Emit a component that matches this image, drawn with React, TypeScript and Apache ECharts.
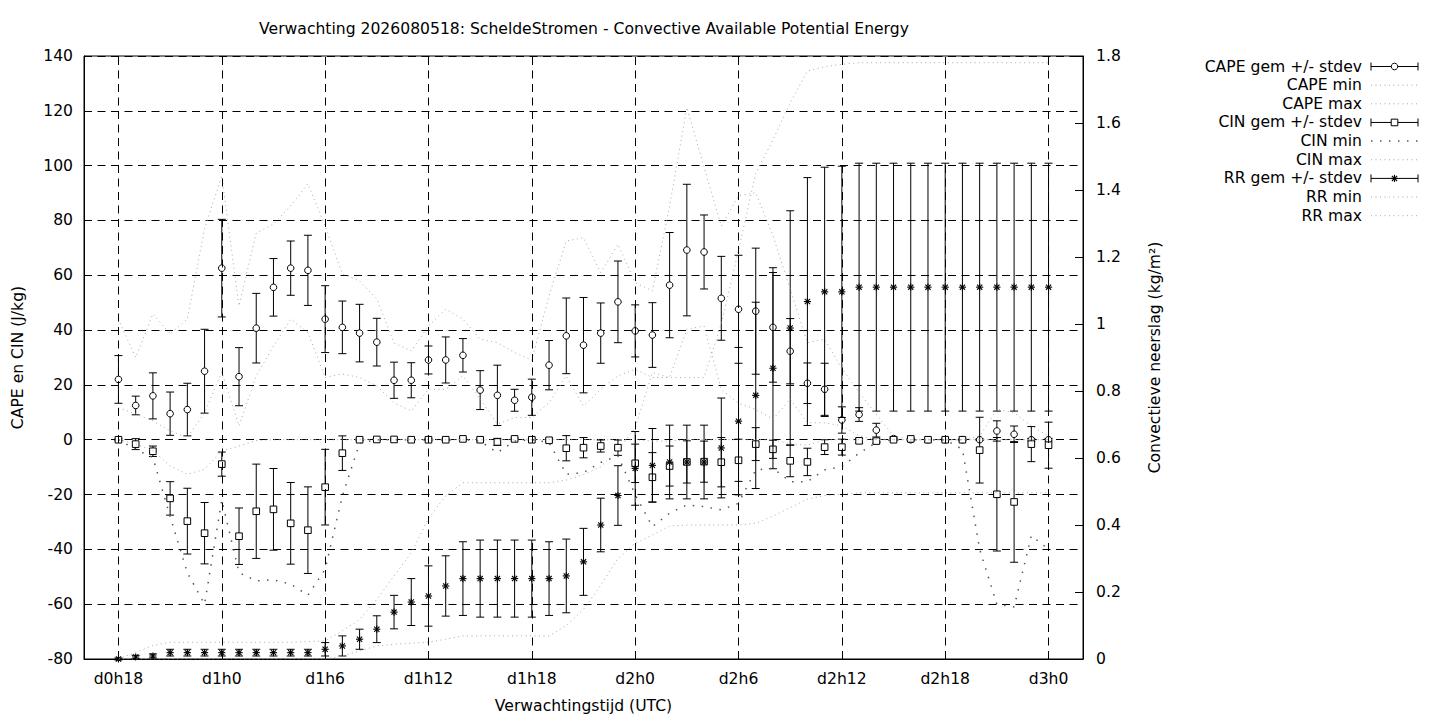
import React, { useEffect, useRef } from "react";
import * as echarts from "echarts";

const FONT = "DejaVu Sans";
const FS = 15.6;

// hours after d0h18
const hours = [
  0, 1, 2, 3, 4, 5, 6, 7, 8, 9, 10, 11, 12, 13, 14, 15, 16, 17, 18, 19, 20, 21, 22, 23, 24, 25, 26,
  27, 28, 29, 30, 31, 32, 33, 34, 35, 36, 37, 38, 39, 40, 41, 42, 43, 44, 45, 46, 47, 48, 49, 50, 51,
  52, 53, 54,
];
const xTickValues = [0, 6, 12, 18, 24, 30, 36, 42, 48, 54];
const xTickLabels = ["d0h18", "d1h0", "d1h6", "d1h12", "d1h18", "d2h0", "d2h6", "d2h12", "d2h18", "d3h0"];

const capeMean = [
  22, 12.5, 16, 9.5, 11, 25, 62.6, 23, 40.7, 55.6,
  62.6, 61.8, 44, 41, 38.9, 35.6, 21.7, 21.7, 29.1, 29.1,
  30.8, 18.1, 16.2, 14.4, 15.5, 27.2, 37.9, 34.5, 38.9, 50.3,
  39.7, 38.2, 56.4, 69.2, 68.5, 51.6, 47.6, 46.9, 41, 32.3,
  20.6, 18.4, 7.2, 9.2, 3.5, 0.4, 0, 0, 0, 0,
  0, 3.2, 2, 0, 0,
];
const capeStd = [
  8.7, 3.4, 8.4, 7.9, 9.6, 15.3, 17.8, 10.6, 12.7, 10.5,
  9.9, 12.8, 12.2, 9.6, 10.5, 8.7, 6.6, 6.4, 5.1, 8.4,
  6.1, 7.1, 11, 4, 6.6, 9, 13.8, 17.4, 11, 14.9,
  9.5, 11.8, 19.2, 24, 13.5, 15.3, 19.7, 23, 20, 11.9,
  7.4, 9.5, 4.8, 2.5, 2.5, 0.6, 0, 0, 0, 0,
  0.3, 3.7, 3, 0.5, 0.5,
];
const capeMin = [
  11.7, 9.4, 6.9, 3.2, 0.8, 9.9, 24.7, 5, 23.3, 34.2,
  44, 39.1, 22.7, 24, 22.7, 19.6, 13.5, 10.5, 18.4, 18.4,
  23.3, 14.8, 5.7, 8.1, 8.1, 13.5, 23.3, 12.3, 18.4, 23.3,
  25.7, 22.7, 22.7, 40.3, 41.5, 18.4, 13.3, 11.1, 7.5, 14.8,
  6.2, 6.2, 5, 1.4, 0, 0, 0, 0, 0, 0,
  0, 0, 0, 0, 0,
];
const capeMax = [
  44, 30, 45.9, 38.6, 44, 77, 96.2, 48.8, 75.4, 78.7,
  85.3, 93.4, 78, 60.5, 57.9, 51.3, 35.3, 32.4, 41.5, 47.6,
  44, 36.7, 35.4, 31.8, 29, 52.5, 72.5, 73.7, 61, 71.3,
  57.3, 54.3, 85.3, 121.2, 99.5, 78, 89, 90.1, 74.4, 54.9,
  35.4, 36.7, 26, 17.2, 9.3, 1.4, 0, 0, 0, 0,
  1.4, 11.1, 9.9, 5, 1.4,
];
const cinMean = [
  0, -1.6, -4.2, -21.4, -29.7, -34.1, -8.9, -35.2, -26.1, -25.4,
  -30.5, -33, -17.3, -4.9, 0, 0.1, 0.1, 0, 0, 0,
  0.3, 0, -0.8, 0.3, 0, -0.2, -3.1, -2.9, -2.3, -2.9,
  -8.6, -13.7, -9.6, -8.1, -8, -8.2, -7.5, -1.6, -3.5, -7.7,
  -8.1, -2.7, -2.7, -0.4, -0.5, 0, 0.3, 0, 0, 0,
  -3.8, -19.9, -22.7, -1.6, -2,
];
const cinStd = [
  0.3, 2, 1.9, 6.1, 12, 11.2, 4.4, 10.3, 17.2, 14.9,
  14.9, 15.8, 13.8, 6.3, 0.3, 0.3, 0.3, 0.3, 0.3, 0.3,
  0.3, 0.3, 1.3, 0.3, 0.3, 0.5, 4.6, 3.7, 2.2, 2.8,
  7, 9, 7.3, 7.7, 7.5, 9, 7.7, 6, 3.3, 5.8,
  5, 2.7, 2.9, 0.8, 0.8, 0.3, 0.3, 0.3, 0.3, 0.3,
  12, 20.7, 22, 6.4, 8.4,
];
const cinMin = [
  0, -3.5, -6.5, -28, -48.5, -60, -22, -48.5, -51.5, -51.1,
  -52.7, -56.7, -47.3, -20.5, -1.3, 0, 0, 0, 0, 0,
  0, -0.5, -4.7, -0.5, 0, -1, -12.6, -12, -8.3, -5.9,
  -20, -31.7, -26.8, -23.8, -24.4, -25.6, -23.2, -11, -10.4, -15.3,
  -15.3, -11, -9.8, -4.9, -1, 0, 0, 0, 0, -3.5,
  -40, -60, -61, -35, -40,
];
const cinMax = [
  0, -1.5, -4, -9.6, -12.6, -10.8, -4.1, -2.3, -0.3, 0,
  0, 0, 0, 0, 0, 0, 0, 0, 0, 0,
  0, 0, 0, 0, 0, 0, 0, 0, 0, 0,
  0, -0.5, -0.5, 0, 0, 0, 0, 0, 0, -1.5,
  -2, 0, 0, 0, 0, 0, 0, 0, 0, 0,
  0, 0, 0, 0, 0,
];
const rrMean = [
  0, 0.006, 0.009, 0.019, 0.019, 0.019, 0.019, 0.019, 0.019, 0.019,
  0.019, 0.019, 0.029, 0.039, 0.059, 0.089, 0.14, 0.17, 0.188, 0.218,
  0.24, 0.24, 0.24, 0.24, 0.24, 0.24, 0.248, 0.29, 0.4, 0.488,
  0.569, 0.578, 0.588, 0.588, 0.588, 0.63, 0.71, 0.787, 0.868, 0.988,
  1.067, 1.096, 1.096, 1.11, 1.11, 1.11, 1.11, 1.11, 1.11, 1.11,
  1.11, 1.11, 1.11, 1.11, 1.11,
];
const rrStd = [
  0.003, 0.005, 0.006, 0.01, 0.01, 0.01, 0.01, 0.01, 0.01, 0.01,
  0.01, 0.01, 0.02, 0.03, 0.03, 0.04, 0.05, 0.07, 0.09, 0.09,
  0.11, 0.115, 0.115, 0.115, 0.115, 0.11, 0.11, 0.1, 0.08, 0.089,
  0.11, 0.11, 0.11, 0.11, 0.11, 0.149, 0.22, 0.278, 0.3, 0.35,
  0.37, 0.372, 0.375, 0.37, 0.37, 0.37, 0.37, 0.37, 0.37, 0.37,
  0.37, 0.37, 0.37, 0.37, 0.37,
];
const rrMin = [
  0, 0, 0, 0, 0, 0, 0, 0, 0, 0,
  0, 0, 0, 0.009, 0.024, 0.039, 0.044, 0.047, 0.05, 0.059,
  0.069, 0.069, 0.069, 0.069, 0.069, 0.069, 0.1, 0.148, 0.22, 0.3,
  0.345, 0.37, 0.397, 0.4, 0.4, 0.4, 0.4, 0.405, 0.426, 0.452,
  0.477, 0.488, 0.492, 0.496, 0.496, 0.496, 0.496, 0.496, 0.496, 0.496,
  0.496, 0.496, 0.496, 0.496, 0.496,
];
const rrMax = [
  0, 0.02, 0.04, 0.05, 0.05, 0.05, 0.05, 0.05, 0.05, 0.05,
  0.05, 0.052, 0.054, 0.084, 0.118, 0.178, 0.248, 0.317, 0.42, 0.487,
  0.526, 0.526, 0.526, 0.526, 0.526, 0.526, 0.534, 0.55, 0.574, 0.624,
  0.69, 0.855, 0.84, 0.84, 0.84, 1.0, 1.22, 1.45, 1.55, 1.66,
  1.755, 1.768, 1.775, 1.78, 1.78, 1.78, 1.78, 1.78, 1.78, 1.78,
  1.78, 1.78, 1.78, 1.78, 1.78,
];

const legendNames = [
  "CAPE gem +/- stdev", "CAPE min", "CAPE max",
  "CIN gem +/- stdev", "CIN min", "CIN max",
  "RR gem +/- stdev", "RR min", "RR max",
];

const GRAY = "#a8a8a8";
const FINE_DASH = [1, 3.5];
const CIN_MIN_COLOR = "#555555";
const CIN_MIN_DASH = [1.5, 7.5];
const GRID_DASH = [8, 5.5];
const CAP = 4;

function markerEls(kind: string, cx: number, cy: number): any[] {
  const st = { fill: "#fff", stroke: "#000", lineWidth: 1 };
  if (kind === "circle") {
    return [{ type: "circle", shape: { cx, cy, r: 3.3 }, style: st }];
  }
  if (kind === "square") {
    return [{ type: "rect", shape: { x: cx - 3.3, y: cy - 3.3, width: 6.6, height: 6.6 }, style: st }];
  }
  const ls = { stroke: "#000", lineWidth: 1.1 };
  const r = 3.6;
  const d = 2.6;
  return [
    { type: "line", shape: { x1: cx - r, y1: cy, x2: cx + r, y2: cy }, style: ls },
    { type: "line", shape: { x1: cx, y1: cy - r, x2: cx, y2: cy + r }, style: ls },
    { type: "line", shape: { x1: cx - d, y1: cy - d, x2: cx + d, y2: cy + d }, style: ls },
    { type: "line", shape: { x1: cx - d, y1: cy + d, x2: cx + d, y2: cy - d }, style: ls },
  ];
}

function makeErr(kind: string) {
  return (_params: any, api: any) => {
    const x = api.value(0);
    const m = api.value(1);
    const s = api.value(2);
    const c = api.coord([x, m]);
    const t = api.coord([x, m + s]);
    const b = api.coord([x, m - s]);
    const st = { stroke: "#000", lineWidth: 1 };
    const children: any[] = [
      { type: "line", shape: { x1: c[0], y1: t[1], x2: c[0], y2: b[1] }, style: st },
      { type: "line", shape: { x1: c[0] - CAP, y1: t[1], x2: c[0] + CAP, y2: t[1] }, style: st },
      { type: "line", shape: { x1: c[0] - CAP, y1: b[1], x2: c[0] + CAP, y2: b[1] }, style: st },
      ...markerEls(kind, c[0], c[1]),
    ];
    return { type: "group", children };
  };
}

function errSeries(name: string, kind: string, mean: number[], std: number[], yAxisIndex: number) {
  return {
    type: "custom",
    name,
    yAxisIndex,
    renderItem: makeErr(kind),
    data: hours.map((h, i) => [h, mean[i], std[i]]),
    encode: { x: 0, y: 1 },
    clip: false,
    silent: true,
  };
}

function lineSeries(name: string, vals: number[], yAxisIndex: number, color: string, dash: number[], width: number) {
  return {
    type: "line",
    name,
    yAxisIndex,
    data: hours.map((h, i) => [h, vals[i]]),
    symbol: "none",
    showSymbol: false,
    silent: true,
    lineStyle: { color, width, type: dash },
  };
}

function buildLegend(): any[] {
  const els: any[] = [];
  const textRight = 1362;
  const x1 = 1371;
  const x2 = 1418;
  const kinds: Record<number, string> = { 0: "circle", 3: "square", 6: "star" };
  legendNames.forEach((name, k) => {
    const y = 66.5 + 18.65 * k;
    els.push({
      type: "text",
      x: textRight,
      y,
      style: {
        text: name,
        align: "right",
        verticalAlign: "middle",
        textAlign: "right",
        textVerticalAlign: "middle",
        fontSize: FS,
        fontFamily: FONT,
        fill: "#000",
      },
    });
    if (kinds[k]) {
      const st = { stroke: "#000", lineWidth: 1 };
      els.push({ type: "line", shape: { x1, y1: y, x2, y2: y }, style: st });
      els.push({ type: "line", shape: { x1, y1: y - 4, x2: x1, y2: y + 4 }, style: st });
      els.push({ type: "line", shape: { x1: x2, y1: y - 4, x2, y2: y + 4 }, style: st });
      markerEls(kinds[k], (x1 + x2) / 2, y).forEach((e) => els.push(e));
    } else if (k === 4) {
      els.push({
        type: "line",
        shape: { x1, y1: y, x2, y2: y },
        style: { stroke: CIN_MIN_COLOR, lineWidth: 1.5, lineDash: CIN_MIN_DASH },
      });
    } else {
      els.push({
        type: "line",
        shape: { x1, y1: y, x2, y2: y },
        style: { stroke: GRAY, lineWidth: 1, lineDash: FINE_DASH },
      });
    }
  });
  return els;
}

export default function App() {
  const ref = useRef<HTMLDivElement>(null);
  useEffect(() => {
    if (!ref.current) return;
    const chart = echarts.init(ref.current, null, { renderer: "svg" });
    const textStyle = { fontFamily: FONT, fontSize: FS, color: "#000" };
    const option: any = {
      animation: false,
      backgroundColor: "#fff",
      textStyle: { fontFamily: FONT },
      grid: {
        left: 84,
        top: 56,
        width: 999,
        height: 603,
        show: true,
        borderColor: "#000",
        borderWidth: 1,
        backgroundColor: "transparent",
        containLabel: false,
      },
      graphic: [
        {
          type: "text",
          x: 584,
          y: 29,
          style: {
            text: "Verwachting 2026080518: ScheldeStromen - Convective Available Potential Energy",
            align: "center",
            verticalAlign: "middle",
            textAlign: "center",
            textVerticalAlign: "middle",
            fontSize: FS,
            fontFamily: FONT,
            fill: "#000",
          },
        },
        ...buildLegend(),
      ],
      xAxis: {
        type: "value",
        min: -2,
        max: 56,
        name: "Verwachtingstijd (UTC)",
        nameLocation: "middle",
        nameGap: 39,
        nameTextStyle: textStyle,
        axisLine: { show: true, onZero: false, lineStyle: { color: "#000", width: 1 } },
        axisTick: {
          show: true,
          inside: true,
          length: 8,
          customValues: xTickValues,
          lineStyle: { color: "#000" },
        },
        axisLabel: {
          ...textStyle,
          margin: 12,
          customValues: xTickValues,
          formatter: (v: number) => {
            const idx = xTickValues.indexOf(v);
            return idx >= 0 ? xTickLabels[idx] : "";
          },
        },
        splitLine: { show: false },
      },
      yAxis: [
        {
          type: "value",
          min: -80,
          max: 140,
          interval: 20,
          position: "left",
          name: "CAPE en CIN (J/kg)",
          nameLocation: "middle",
          nameRotate: 90,
          nameGap: 58,
          nameTextStyle: textStyle,
          axisLine: { show: true, onZero: false, lineStyle: { color: "#000", width: 1 } },
          axisTick: { show: true, inside: true, length: 8, lineStyle: { color: "#000" } },
          axisLabel: { ...textStyle, margin: 11 },
          splitLine: { show: true, lineStyle: { color: "#000", width: 1, type: GRID_DASH } },
        },
        {
          type: "value",
          min: 0,
          max: 1.8,
          interval: 0.2,
          position: "right",
          name: "Convectieve neerslag (kg/m²)",
          nameLocation: "middle",
          nameRotate: 90,
          nameGap: 64,
          nameTextStyle: textStyle,
          axisLine: { show: true, onZero: false, lineStyle: { color: "#000", width: 1 } },
          axisTick: { show: true, inside: true, length: 8, lineStyle: { color: "#000" } },
          axisLabel: { ...textStyle, margin: 13 },
          splitLine: { show: false },
        },
      ],
      series: [
        {
          type: "line",
          name: "vgrid",
          data: [],
          silent: true,
          z: 1,
          markLine: {
            silent: true,
            symbol: ["none", "none"],
            label: { show: false },
            lineStyle: { color: "#000", width: 1, type: GRID_DASH },
            data: xTickValues.map((v) => ({ xAxis: v })),
          },
        },
        errSeries(legendNames[0], "circle", capeMean, capeStd, 0),
        lineSeries(legendNames[1], capeMin, 0, GRAY, FINE_DASH, 1),
        lineSeries(legendNames[2], capeMax, 0, GRAY, FINE_DASH, 1),
        errSeries(legendNames[3], "square", cinMean, cinStd, 0),
        lineSeries(legendNames[4], cinMin, 0, CIN_MIN_COLOR, CIN_MIN_DASH, 1.5),
        lineSeries(legendNames[5], cinMax, 0, GRAY, FINE_DASH, 1),
        errSeries(legendNames[6], "star", rrMean, rrStd, 1),
        lineSeries(legendNames[7], rrMin, 1, GRAY, FINE_DASH, 1),
        lineSeries(legendNames[8], rrMax, 1, GRAY, FINE_DASH, 1),
      ],
    };
    chart.setOption(option);
    return () => chart.dispose();
  }, []);
  return (
    <div
      ref={ref}
      style={{ position: "absolute", left: 0, top: 0, width: 1440, height: 720, background: "#fff" }}
    />
  );
}
